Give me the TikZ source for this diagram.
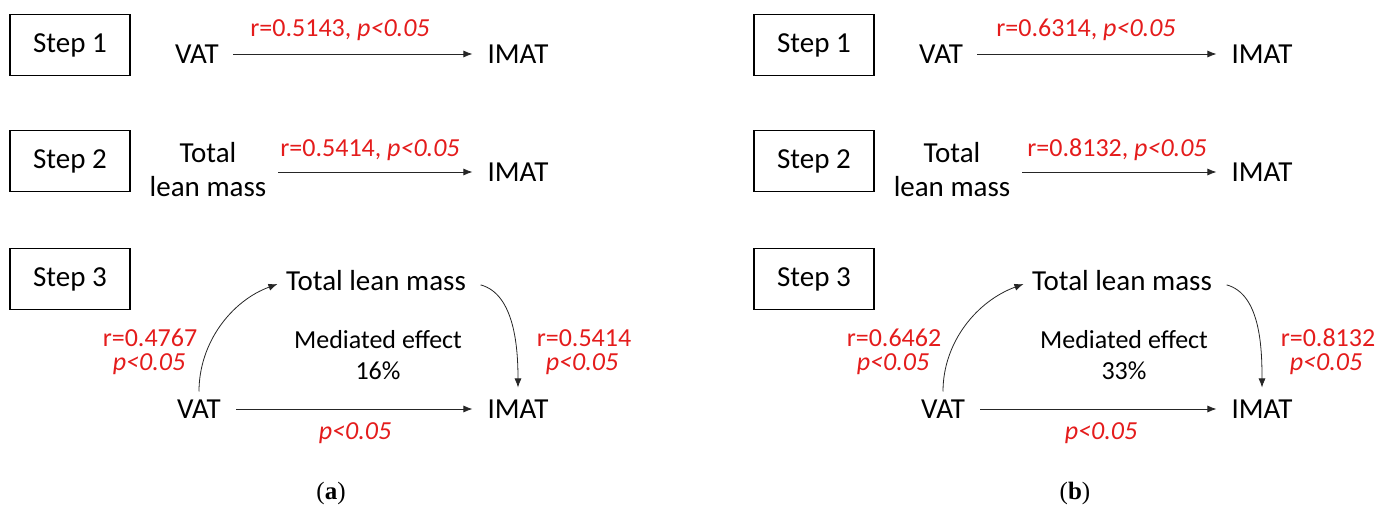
\documentclass[tikz,border=0pt]{standalone}
\usepackage{fontspec}
\setmainfont{Carlito}
\newfontfamily\capfont{Liberation Serif}
\usetikzlibrary{arrows.meta}
\definecolor{lblred}{RGB}{228,28,28}
\tikzset{
  txt/.style={inner sep=0pt, font=\fontsize{29}{34}\selectfont},
  lbl/.style={inner sep=0pt, text=lblred, font=\fontsize{26}{31}\selectfont},
  stepbox/.style={draw, line width=1.4pt, minimum width=120pt, minimum height=61pt, inner sep=0pt, font=\fontsize{29}{34}\selectfont},
  arr/.style={line width=0.8pt, draw=black!85, -{Latex[length=9pt,width=7pt]}},
}
\newcommand\mypanel[9]{%
  \node[stepbox] (s1) at (70,45) {Step 1};
  \node[stepbox] (s2) at (70,161) {Step 2};
  \node[stepbox] (s3) at (70,279) {Step 3};
  % step 1
  \node[txt] (vat1) at (197,54) {VAT};
  \node[txt] (imat1) at (518,54) {IMAT};
  \draw[arr, shorten <=14pt, shorten >=15pt] (vat1.east) -- (imat1.west);
  \node[lbl] (l1) at (#7,30) {r=#1, \textit{p<0.05}};
  % step 2
  \node[txt, align=center] (tl2) at (208,170) {Total\\lean mass};
  \node[txt] (imat2) at (518,172) {IMAT};
  \draw[arr, shorten <=12pt, shorten >=15pt] (tl2.east |- imat2.west) -- (imat2.west);
  \node[lbl] (l2) at (#8,150) {r=#2, \textit{p<0.05}};
  % step 3
  \node[txt] (tl3) at (#9,281) {Total lean mass};
  \node[txt] (vat3) at (199,409) {VAT};
  \node[txt] (imat3) at (518,409) {IMAT};
  \draw[arr, shorten <=15pt, shorten >=15pt] (vat3.east) -- (imat3.west);
  \draw[arr, shorten <=8pt, shorten >=9pt] (vat3.north) to[out=90, in=200] (tl3.west);
  \draw[arr, shorten <=15pt, shorten >=12pt] (tl3.east) to[out=-15, in=90] (imat3.north);
  \node[lbl] (lb) at (#9-21,433) {\textit{p<0.05}};
  \node[lbl] (ll1) at (150,338) {r=#3};
  \node[lbl] (ll2) at (149,364) {\textit{p<0.05}};
  \node[lbl] (lr1) at (584,338) {r=#4};
  \node[lbl] (lr2) at (582,364) {\textit{p<0.05}};
  \node[txt, font=\fontsize{26}{30}\selectfont] (me) at (#9+2,340) {Mediated effect};
  \node[txt, font=\fontsize{26}{30}\selectfont] (pc) at (#9+2,371) {#5};
  \node[inner sep=0pt, font=\capfont\fontsize{25}{29}\selectfont] (cap) at (331,493) {(\textbf{#6})};
}
\begin{document}
\begin{tikzpicture}[x=1pt, y=-1pt]
  \useasboundingbox (0,0) rectangle (1391,513);
  \begin{scope}[name prefix=a-]
    \mypanel{0.5143}{0.5414}{0.4767}{0.5414}{16\%}{a}{340}{370}{376}
  \end{scope}
  \begin{scope}[xshift=744pt, name prefix=b-]
    \mypanel{0.6314}{0.8132}{0.6462}{0.8132}{33\%}{b}{342}{373}{378}
  \end{scope}
\end{tikzpicture}
\end{document}
